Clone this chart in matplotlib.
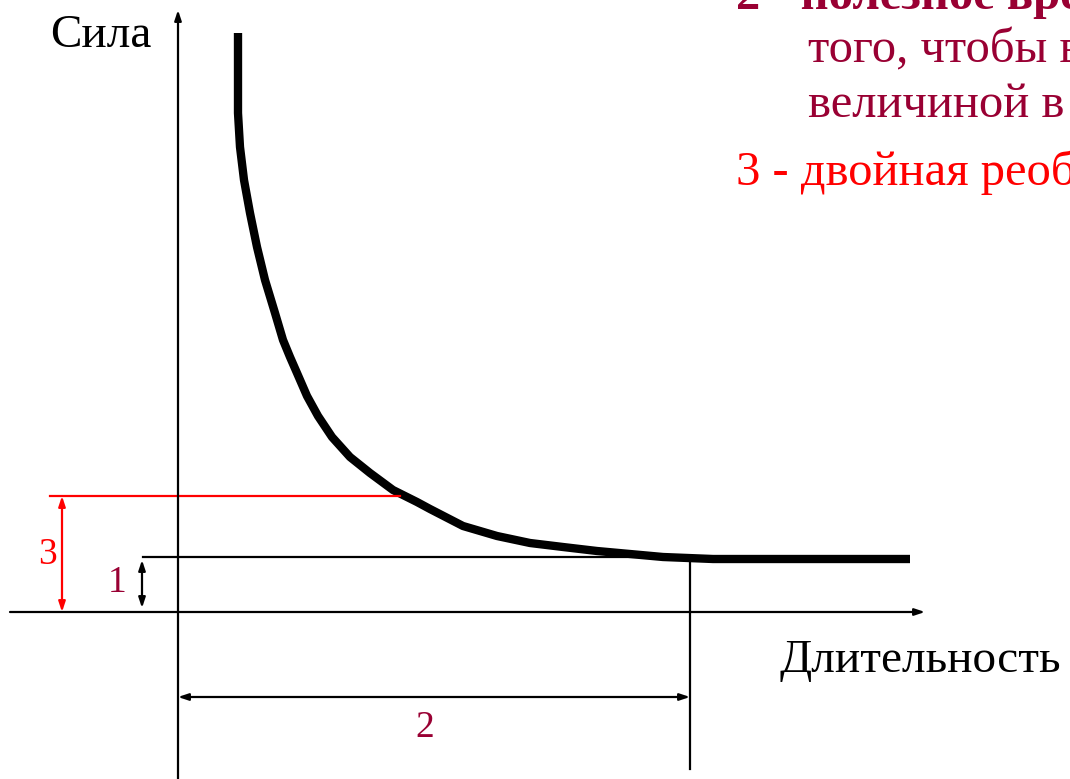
import matplotlib

matplotlib.use("Agg")
import matplotlib.pyplot as plt

# strength-duration curve, units = pixels from the axes origin
DURATION = [60, 60, 60, 60, 62, 66, 72, 79, 87, 97, 105, 112, 119, 129, 140, 154, 172, 192,
            215, 239, 252, 285, 319, 352, 385, 419, 452, 485, 535, 732]
FORCE = [579, 562, 532, 499, 465, 432, 399, 365, 332, 299, 272, 255, 239, 216, 196, 175, 155, 139,
         122, 110, 103, 86, 76, 69, 65, 61, 58, 55, 53, 53]

RHEOBASE = 55          # 1 - реобаза
DOUBLE_RHEOBASE = 116  # 3 - двойная реобаза
USEFUL_TIME = 512      # 2 - полезное время
CURVE_AT_DOUBLE = 222  # where the double-rheobase line meets the curve

DARK_RED = "#990033"
RED = "#ff0000"

LEGEND_LINES = [
    ("2 - полезное время – минимальное время для", DARK_RED, "bold"),
    ("того, чтобы вызвать возбуждение током", DARK_RED, "normal"),
    ("величиной в одну реобазу", DARK_RED, "normal"),
    ("3 - двойная реобаза", RED, "normal"),
]

plt.rcParams["font.family"] = ["Liberation Serif", "DejaVu Serif"]

fig = plt.figure(figsize=(10.7, 7.79), dpi=100)
ax = fig.add_axes([0, 0, 1, 1])
ax.set_xlim(-178, 892)
ax.set_ylim(-167, 612)
ax.axis("off")

# axes with arrow heads
ax.annotate("", xy=(0, 602), xytext=(0, -167),
            arrowprops=dict(arrowstyle="-|>,head_length=0.6,head_width=0.2", color="black", lw=1.6,
                            shrinkA=0, shrinkB=0))
ax.annotate("", xy=(747, 0), xytext=(-168, 0),
            arrowprops=dict(arrowstyle="-|>,head_length=0.6,head_width=0.2", color="black", lw=1.6,
                            shrinkA=0, shrinkB=0))

# the curve
ax.plot(DURATION, FORCE, color="black", lw=6, solid_capstyle="butt", solid_joinstyle="round")

# rheobase level and useful time
ax.plot([-35, USEFUL_TIME], [RHEOBASE, RHEOBASE], color="black", lw=1.6)
ax.plot([USEFUL_TIME, USEFUL_TIME], [RHEOBASE, -157], color="black", lw=1.6)
ax.plot([-128, CURVE_AT_DOUBLE], [DOUBLE_RHEOBASE, DOUBLE_RHEOBASE], color=RED, lw=1.6)

arrow = dict(arrowstyle="<|-|>,head_length=0.6,head_width=0.2", lw=1.6, shrinkA=0, shrinkB=0)
ax.annotate("", xy=(-116, DOUBLE_RHEOBASE), xytext=(-116, 0), arrowprops=dict(arrow, color=RED))
ax.annotate("", xy=(-36, RHEOBASE - 3), xytext=(-36, 4), arrowprops=dict(arrow, color="black"))
ax.annotate("", xy=(0, -85), xytext=(USEFUL_TIME, -85), arrowprops=dict(arrow, color="black"))

# marker labels
ax.text(-131, 57, "3", color=RED, fontsize=27, ha="center", va="center")
ax.text(-61, 29, "1", color=DARK_RED, fontsize=27, ha="center", va="center")
ax.text(247, -116, "2", color=DARK_RED, fontsize=27, ha="center", va="center")

# axis titles
ax.text(-128, 565, "Сила", fontsize=34, ha="left", va="baseline")
ax.text(602, -60, "Длительность", fontsize=34, ha="left", va="baseline")

# explanation text, top right
text_x = [558, 630, 630, 558]
text_y = [603, 550, 495, 427]
for (line, col, weight), tx, ty in zip(LEGEND_LINES, text_x, text_y):
    ax.text(tx, ty, line, color=col, fontsize=35, fontweight=weight, ha="left", va="baseline",
            clip_on=False)

fig.savefig("out.png", dpi=100)
